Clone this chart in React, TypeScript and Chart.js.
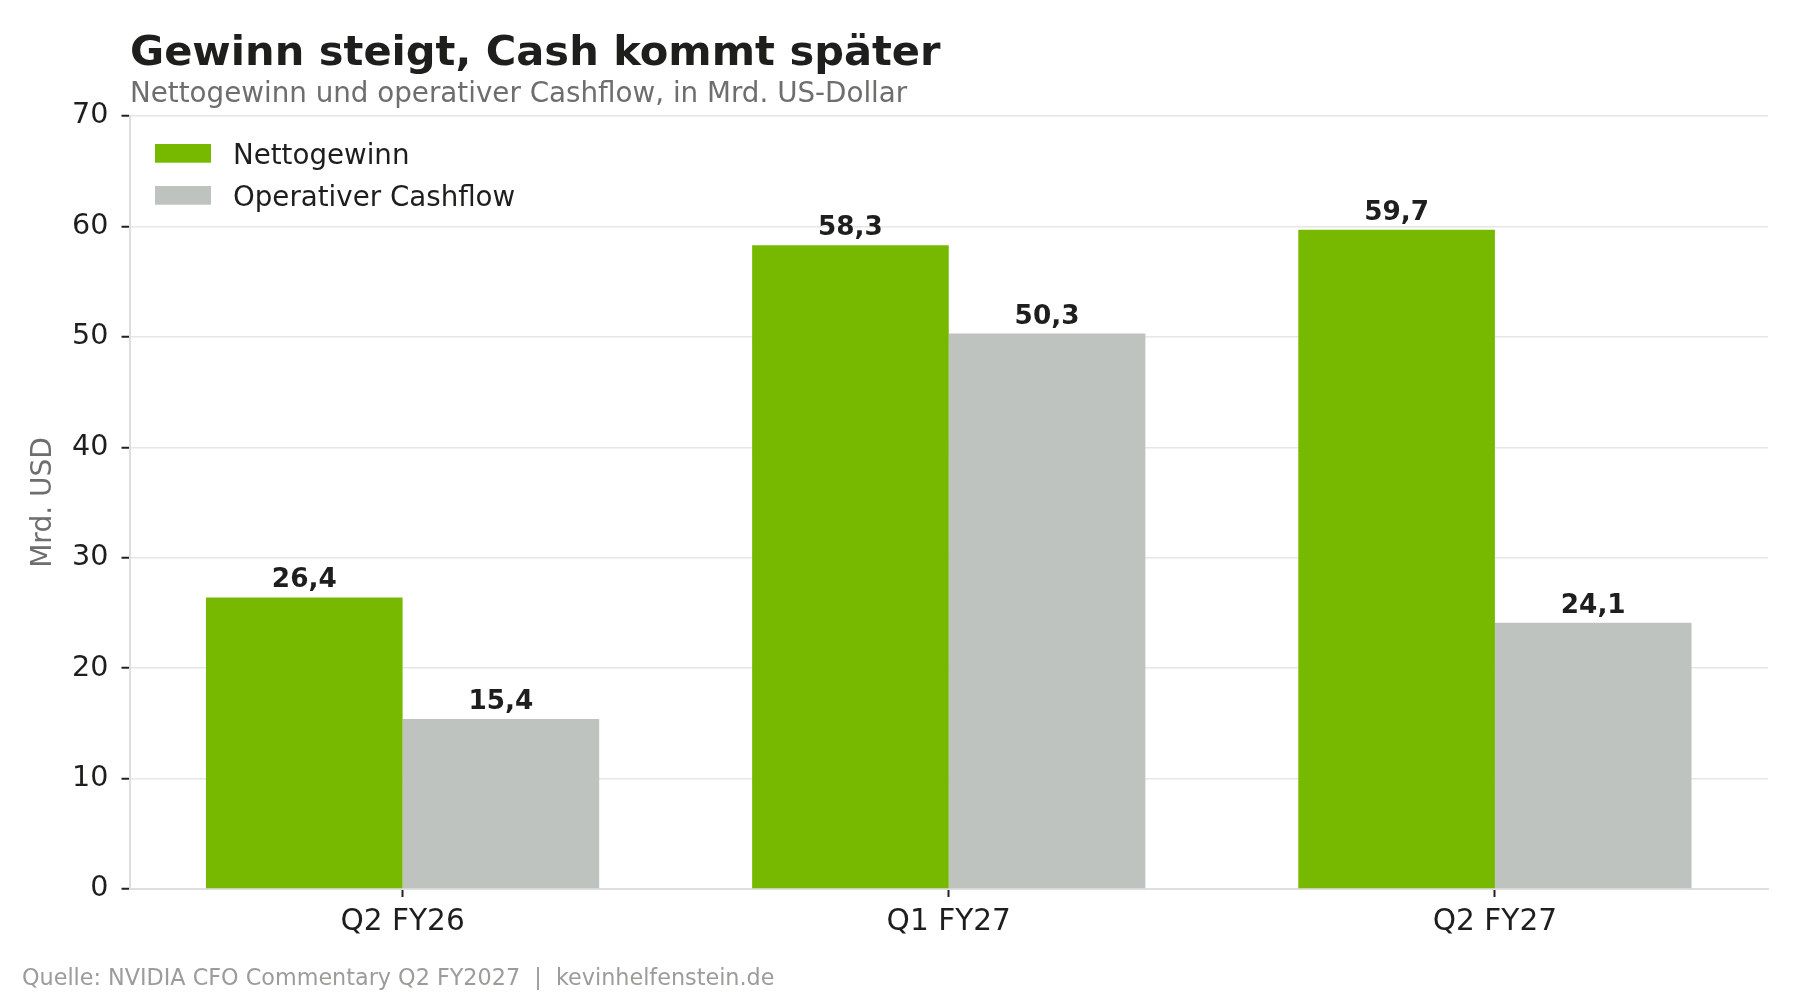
import React, { useEffect, useRef } from 'react';
import { Chart, registerables } from 'chart.js';

Chart.register(...registerables);

// data
const categories = ['Q2 FY26', 'Q1 FY27', 'Q2 FY27'];
const nettogewinn = [26.4, 58.3, 59.7];
const operativerCashflow = [15.4, 50.3, 24.1];
const yTicks = [0, 10, 20, 30, 40, 50, 60, 70];

const FONT = "'DejaVu Sans', sans-serif";
const GREEN = '#76b900';
const GREY = '#bfc3c0';
const INK = '#1e1f1c';

const fmt = (v: number) => v.toFixed(1).replace('.', ',');

// title, subtitle and source line
const headerFooter = {
  id: 'headerFooter',
  afterDraw(chart: any) {
    const { ctx } = chart;
    ctx.save();
    ctx.textAlign = 'left';
    ctx.textBaseline = 'alphabetic';
    ctx.fillStyle = INK;
    ctx.font = `bold 41.6px ${FONT}`;
    ctx.fillText('Gewinn steigt, Cash kommt später', 130, 65);
    ctx.fillStyle = '#6c6f6b';
    ctx.font = `27.75px ${FONT}`;
    ctx.fillText('Nettogewinn und operativer Cashflow, in Mrd. US-Dollar', 130, 102);
    ctx.fillStyle = '#9a9d98';
    ctx.font = `22.3px ${FONT}`;
    ctx.fillText('Quelle: NVIDIA CFO Commentary Q2 FY2027  |  kevinhelfenstein.de', 22, 985);
    ctx.restore();
  },
};

// legend in the upper left corner of the plot
const innerLegend = {
  id: 'innerLegend',
  afterDraw(chart: any) {
    const { ctx, chartArea } = chart;
    ctx.save();
    chart.data.datasets.forEach((ds: any, i: number) => {
      const top = chartArea.top + 28 + i * 42;
      ctx.fillStyle = ds.backgroundColor;
      ctx.fillRect(chartArea.left + 25.5, top, 56, 18.7);
      ctx.fillStyle = INK;
      ctx.font = `27.7px ${FONT}`;
      ctx.textAlign = 'left';
      ctx.textBaseline = 'alphabetic';
      ctx.fillText(ds.label, chartArea.left + 103.5, top + 19.5);
    });
    ctx.restore();
  },
};

// value labels above the bars
const valueLabels = {
  id: 'valueLabels',
  afterDatasetsDraw(chart: any) {
    const { ctx } = chart;
    ctx.save();
    ctx.fillStyle = INK;
    ctx.font = `bold 26.3px ${FONT}`;
    ctx.textAlign = 'center';
    ctx.textBaseline = 'alphabetic';
    chart.data.datasets.forEach((ds: any, i: number) => {
      chart.getDatasetMeta(i).data.forEach((bar: any, j: number) => {
        ctx.fillText(fmt(ds.data[j]), bar.x, bar.y - 10);
      });
    });
    ctx.restore();
  },
};

export default function App() {
  const chartRef = useRef<HTMLCanvasElement>(null);

  useEffect(() => {
    if (!chartRef.current) return;
    Chart.defaults.font.family = FONT;

    const myChart = new Chart(chartRef.current, {
      type: 'bar',
      data: {
        labels: categories,
        datasets: [
          {
            label: 'Nettogewinn',
            data: nettogewinn,
            backgroundColor: GREEN,
            categoryPercentage: 0.72,
            barPercentage: 1,
          },
          {
            label: 'Operativer Cashflow',
            data: operativerCashflow,
            backgroundColor: GREY,
            categoryPercentage: 0.72,
            barPercentage: 1,
          },
        ],
      },
      options: {
        responsive: false,
        animation: false,
        devicePixelRatio: 1,
        layout: { padding: { top: 116, right: 32, bottom: 0, left: 0 } },
        plugins: {
          legend: { display: false },
          title: { display: false },
          tooltip: { enabled: false },
        },
        scales: {
          x: {
            grid: {
              drawOnChartArea: false,
              drawTicks: true,
              offset: false,
              tickLength: 8,
              tickColor: '#222',
              tickWidth: 2,
            },
            border: { color: '#dedede', width: 2 },
            ticks: { color: INK, font: { size: 29.6 }, padding: 8 },
            afterFit: (s: any) => {
              s.height = 111;
            },
          },
          y: {
            min: 0,
            max: 70,
            afterBuildTicks: (s: any) => {
              s.ticks = yTicks.map((v) => ({ value: v }));
            },
            ticks: { color: INK, font: { size: 28.6 }, padding: 13 },
            grid: {
              color: '#e6e6e6',
              lineWidth: 1.5,
              tickColor: '#222',
              tickWidth: 2,
              tickLength: 8,
            },
            border: { color: '#dedede', width: 2 },
            title: {
              display: true,
              text: 'Mrd. USD',
              color: '#6c6f6b',
              font: { size: 28 },
              padding: { top: 27, bottom: 0 },
            },
            afterFit: (s: any) => {
              s.width = 129.5;
            },
          },
        },
      },
      plugins: [headerFooter, innerLegend, valueLabels],
    } as any);

    return () => {
      myChart.destroy();
    };
  }, []);

  return (
    <div style={{ position: 'absolute', left: 0, top: 0, width: 1800, height: 1000, background: '#fff' }}>
      <canvas ref={chartRef} width={1800} height={1000}></canvas>
    </div>
  );
}
